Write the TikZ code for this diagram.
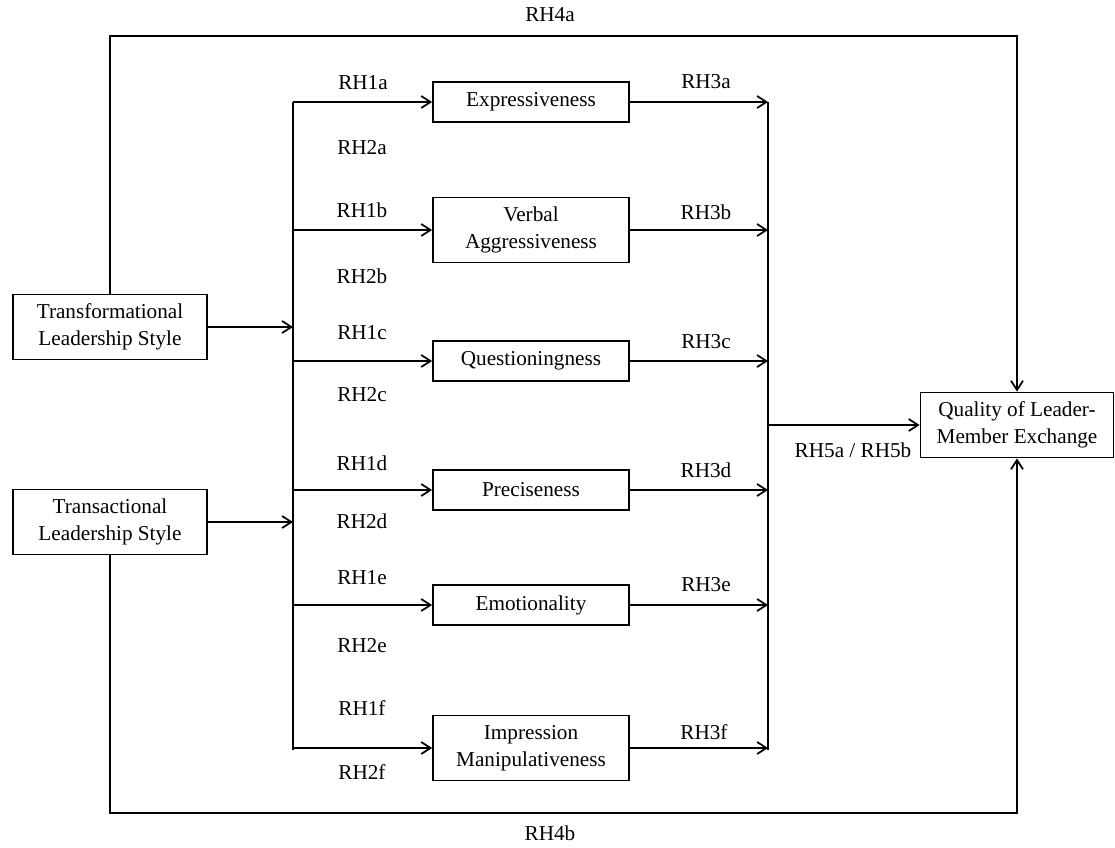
\documentclass[tikz,border=0pt]{standalone}
\usepackage{fontspec}
\setmainfont{Liberation Serif}
\usetikzlibrary{arrows.meta}
\begin{document}
\begin{tikzpicture}[x=0.75pt,y=-0.75pt,
  every node/.style={font=\fontsize{15.9}{20}\selectfont},
  conn/.style={line width=1.3pt},
  arr/.style={conn,-{Straight Barb[length=7pt,width=9pt,line width=1.3pt]}},
  varbox/.style={draw,line width=1.3pt,minimum width=147pt,inner sep=0pt,align=center},
  onebox/.style={varbox,minimum height=30pt},
  twobox/.style={varbox,minimum height=48.75pt},
  lbl/.style={inner sep=0pt}]
\useasboundingbox (0,0) rectangle (1115,847);

% leadership styles
\node[draw,line width=1.3pt,minimum width=145.5pt,minimum height=48.75pt,inner sep=0pt,align=center] (tf) at (110,327) {Transformational\\Leadership Style};
\node[draw,line width=1.3pt,minimum width=145.5pt,minimum height=48.75pt,inner sep=0pt,align=center] (ta) at (110,522) {Transactional\\Leadership Style};

% communication styles
\node[onebox] (ex) at (531,102) {Expressiveness};
\node[twobox] (va) at (531,230) {Verbal\\Aggressiveness};
\node[onebox] (qu) at (531,361) {Questioningness};
\node[onebox] (pr) at (531,490) {Preciseness};
\node[onebox] (em) at (531,605) {Emotionality};
\node[twobox] (im) at (531,748) {Impression\\Manipulativeness};

% outcome
\node[draw,line width=1.3pt,minimum width=144.75pt,minimum height=48.75pt,inner sep=0pt,align=center] (q) at (1017,425) {Quality of Leader-\\Member Exchange};

% bus lines
\coordinate (lt) at (293,102);
\coordinate (lb) at (293,750);
\coordinate (rt) at (768,102);
\coordinate (rb) at (768,750);
\coordinate (rmid) at (768,425);
\draw[conn] (lt) -- (lb);
\draw[conn] (rt) -- (rb);

% inputs to the left bus
\draw[arr] (tf.east) -- (tf.east -| lt);
\draw[arr] (ta.east) -- (ta.east -| lt);

% branches to and from each communication style
\foreach \n in {ex,va,qu,pr,em,im}{
  \draw[arr] (lt |- \n.west) -- (\n.west);
  \draw[arr] (\n.east) -- (\n.east -| rt);
}

% to the outcome
\draw[arr] (rmid) -- (rmid -| q.west);

% direct paths around the frame
\coordinate (c1) at (110,36);
\coordinate (c2) at (1017,36);
\coordinate (c3) at (110,813);
\coordinate (c4) at (1017,813);
\draw[arr] (tf.north) -- (c1) -- (c2) -- (q.north);
\draw[arr] (ta.south) -- (c3) -- (c4) -- (q.south);

% hypothesis labels
\node[lbl] (h4a) at (550,15) {RH4a};
\node[lbl] (h4b) at (550,833) {RH4b};
\node[lbl] (h1a) at (363,83) {RH1a};
\node[lbl] (h2a) at (362,148) {RH2a};
\node[lbl] (h1b) at (362,210) {RH1b};
\node[lbl] (h2b) at (362,276) {RH2b};
\node[lbl] (h1c) at (362,333) {RH1c};
\node[lbl] (h2c) at (362,395) {RH2c};
\node[lbl] (h1d) at (362,463) {RH1d};
\node[lbl] (h2d) at (362,521) {RH2d};
\node[lbl] (h1e) at (362,578) {RH1e};
\node[lbl] (h2e) at (362,646) {RH2e};
\node[lbl] (h1f) at (362,708) {RH1f};
\node[lbl] (h2f) at (362,772) {RH2f};
\node[lbl] (h3a) at (706,82) {RH3a};
\node[lbl] (h3b) at (706,212) {RH3b};
\node[lbl] (h3c) at (706,342) {RH3c};
\node[lbl] (h3d) at (706,470) {RH3d};
\node[lbl] (h3e) at (706,585) {RH3e};
\node[lbl] (h3f) at (704,732) {RH3f};
\node[lbl] (h5) at (853,450) {RH5a / RH5b};
\end{tikzpicture}
\end{document}
